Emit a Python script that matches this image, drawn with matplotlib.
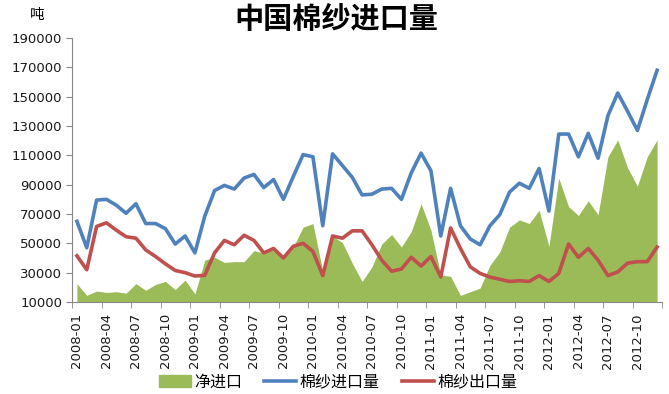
import matplotlib
matplotlib.use("Agg")
import matplotlib.pyplot as plt
from matplotlib.patches import Patch
from matplotlib.lines import Line2D
import numpy as np

plt.rcParams['font.family'] = ['DejaVu Sans', 'Noto Sans CJK SC']

# monthly data 2008-01 .. 2012-12 (tonnes)
months = ["%d-%02d" % (y, m) for y in range(2008, 2013) for m in range(1, 13)]

imports = [65000, 47000, 79500, 80000, 76000, 70500, 77000, 63500, 63500, 60000,
           49500, 55000, 43500, 68500, 86000, 89500, 87000, 94500, 97000, 88000,
           93500, 80000, 95500, 110500, 109000, 62000, 111000, 103000, 95000, 83000,
           83500, 87000, 87500, 80000, 98000, 111500, 99500, 55000, 87500, 62000,
           53000, 49000, 62000, 69500, 85000, 91000, 87500, 101000, 72000, 124500,
           124500, 109000, 125000, 108000, 137000, 152500, 140000, 127000, 148000, 168000]

exports = [41500, 32000, 61500, 64000, 59000, 54500, 53500, 45500, 41000, 36000,
           31500, 30000, 27700, 28200, 43500, 52000, 49000, 55500, 52000, 43500,
           46500, 40000, 48000, 50000, 44500, 28000, 55000, 53500, 58500, 58500,
           49000, 38500, 31000, 32500, 40500, 34500, 41000, 27000, 60500, 46500,
           34000, 29500, 27000, 25500, 24000, 24500, 24000, 28000, 24000, 29500,
           49500, 40500, 46500, 38500, 28000, 30500, 36500, 37500, 37500, 47500]

net = [22500, 14500, 17500, 16500, 17000, 16000, 22500, 18000, 22000, 24000,
       18500, 25000, 15500, 38500, 40500, 37000, 37500, 37500, 45000, 43500,
       46000, 40000, 47500, 61000, 63500, 31000, 55000, 50500, 36500, 24000,
       34000, 49500, 56000, 47500, 58000, 77000, 59000, 28500, 27500, 14500,
       17000, 19500, 35000, 44000, 61000, 66000, 63500, 72500, 48000, 94500,
       75000, 69000, 79000, 69500, 109000, 120500, 101500, 89000, 109000, 120500]

green = '#9BBB59'
blue = '#4F81BD'
red = '#C0504D'

fig = plt.figure(figsize=(6.69, 3.94), dpi=100)
ax = fig.add_axes([72 / 669, 1 - 302 / 394, 590 / 669, 264 / 394])

x = np.arange(len(months))
ax.fill_between(x, 0, net, color=green, linewidth=0)
ax.plot(x, imports, color=blue, linewidth=2.6, solid_joinstyle='round')
ax.plot(x, exports, color=red, linewidth=2.6, solid_joinstyle='round')

ax.set_xlim(-0.5, len(months) - 0.5)
ax.set_ylim(10000, 190000)
ax.set_yticks(np.arange(10000, 190001, 20000))
ax.tick_params(axis='y', direction='out', length=4, color='#888888',
               labelsize=9.5, labelcolor='#1a1a1a', pad=3)

ax.set_xticks(x[::3])
ax.set_xticklabels(months[::3], rotation=90, fontsize=9.5, color='#1a1a1a')
ax.set_xticks(np.arange(-0.5, len(months), 3), minor=True)
ax.tick_params(axis='x', which='major', length=0, pad=8)
ax.tick_params(axis='x', which='minor', direction='out', length=4, color='#888888')

for s in ['top', 'right']:
    ax.spines[s].set_visible(False)
for s in ['left', 'bottom']:
    ax.spines[s].set_color('#888888')

fig.text(37 / 669, 1 - 15 / 394, '吨', fontsize=10.5, ha='center', va='center')
fig.text(336 / 669, 1 - 19 / 394, '中国棉纱进口量', fontsize=21, fontweight='bold',
         family=['Noto Sans CJK SC'], ha='center', va='center')

handles = [Patch(color=green), Line2D([], [], color=blue, linewidth=2.6),
           Line2D([], [], color=red, linewidth=2.6)]
fig.legend(handles, ['净进口', '棉纱进口量', '棉纱出口量'], loc='center',
           bbox_to_anchor=(338 / 669, 1 - 382 / 394), ncol=3, frameon=False,
           fontsize=11.5, handlelength=2.0, handletextpad=0.2, columnspacing=1.4,
           borderpad=0)

fig.savefig('out.png', dpi=100)
